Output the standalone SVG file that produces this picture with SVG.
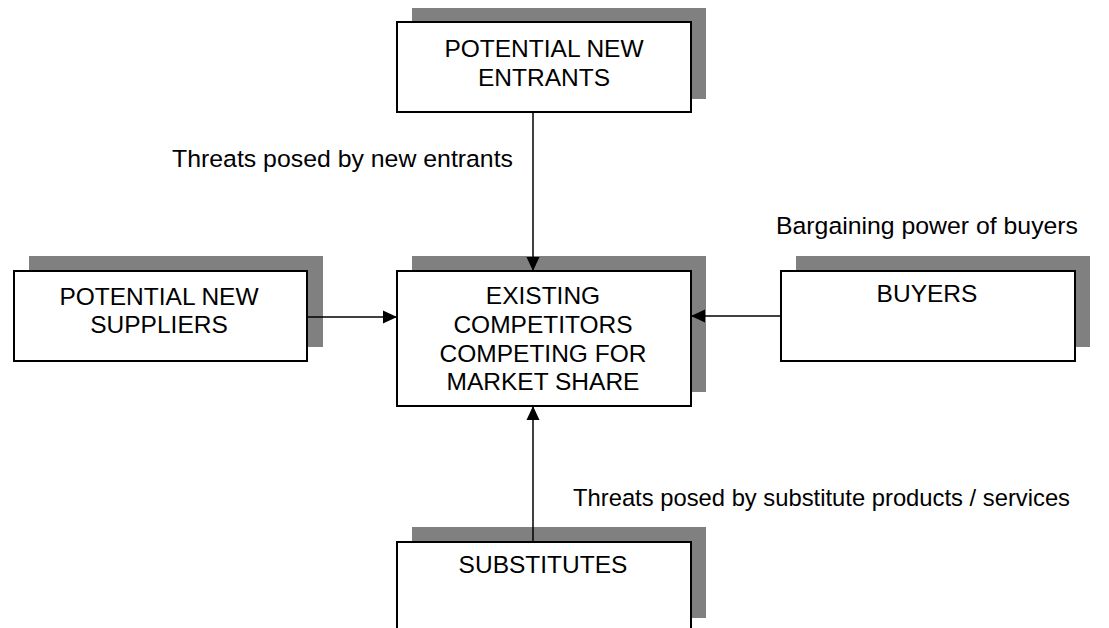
<svg xmlns="http://www.w3.org/2000/svg" width="1109" height="628" viewBox="0 0 1109 628">
<style>
.bg{fill:#ffffff}
.shadow{fill:#808080;stroke:none}
.box{fill:#ffffff;stroke:#000000;stroke-width:2}
.t{font-family:"Liberation Sans",Arial,sans-serif;font-size:24.5px;fill:#000000;text-anchor:middle}
.lbl{font-family:"Liberation Sans",Arial,sans-serif;font-size:24.5px;fill:#000000}
.conn{stroke:#000000;stroke-width:1.5;fill:none;marker-end:url(#arr)}
</style>
<defs>
<marker id="arr" markerUnits="userSpaceOnUse" markerWidth="16" markerHeight="16" viewBox="0 0 16 16" refX="15" refY="8" orient="auto">
<path d="M1,1.5 L15,8 L1,14.5 Z" fill="#000000"/>
</marker>
</defs>
<rect class="bg" x="0" y="0" width="1109" height="628"/>
<g id="node-entrants">
<rect class="shadow" x="412" y="8" width="294" height="91"/>
<rect class="box" x="397" y="22" width="294" height="90"/>
<text class="t" x="544" y="57">POTENTIAL NEW</text>
<text class="t" x="544" y="86">ENTRANTS</text>
</g>
<g id="node-suppliers">
<rect class="shadow" x="29" y="256" width="294" height="91"/>
<rect class="box" x="14" y="271" width="293" height="90"/>
<text class="t" x="159" y="305">POTENTIAL NEW</text>
<text class="t" x="159" y="333">SUPPLIERS</text>
</g>
<g id="node-competitors">
<rect class="shadow" x="412" y="256" width="294" height="136"/>
<rect class="box" x="397" y="271" width="294" height="135"/>
<text class="t" x="543" y="304">EXISTING</text>
<text class="t" x="543" y="333">COMPETITORS</text>
<text class="t" x="543" y="362">COMPETING FOR</text>
<text class="t" x="543" y="390">MARKET SHARE</text>
</g>
<g id="node-buyers">
<rect class="shadow" x="796" y="256" width="294" height="91"/>
<rect class="box" x="781" y="271" width="294" height="90"/>
<text class="t" x="927" y="302">BUYERS</text>
</g>
<g id="node-substitutes">
<rect class="shadow" x="412" y="527" width="294" height="91"/>
<rect class="box" x="397" y="542" width="294" height="92"/>
<text class="t" x="543" y="573">SUBSTITUTES</text>
</g>
<g id="connectors">
<line class="conn" x1="533" y1="112" x2="533" y2="271"/>
<line class="conn" x1="307" y1="317" x2="397" y2="317"/>
<line class="conn" x1="781" y1="316" x2="691" y2="316"/>
<line class="conn" x1="533" y1="542" x2="533" y2="406"/>
</g>
<g id="labels">
<text class="lbl" x="172" y="167" textLength="341" lengthAdjust="spacingAndGlyphs">Threats posed by new entrants</text>
<text class="lbl" x="776" y="234" textLength="302" lengthAdjust="spacingAndGlyphs">Bargaining power of buyers</text>
<text class="lbl" x="573" y="506" textLength="497" lengthAdjust="spacingAndGlyphs">Threats posed by substitute products / services</text>
</g>
</svg>
